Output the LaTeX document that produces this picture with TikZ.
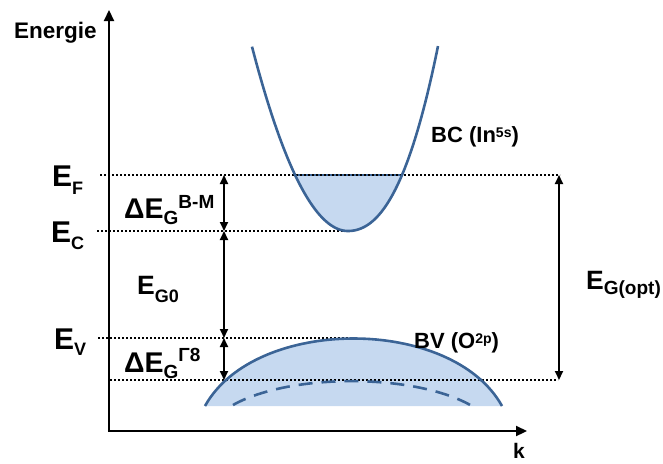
\documentclass[tikz,border=0pt]{standalone}
\usepackage{fontspec}
\setmainfont{Liberation Sans}
\usetikzlibrary{arrows.meta}
\definecolor{bandline}{HTML}{3B6496}
\definecolor{bandfill}{HTML}{C6D9F0}
\newcommand\lowpart[3]{\raisebox{-#1}{\fontsize{#2}{#2}\selectfont #3}}
\newcommand\highpart[3]{\raisebox{#1}{\fontsize{#2}{#2}\selectfont #3}}
\begin{document}
\begin{tikzpicture}[x=1pt,y=-1pt,font=\bfseries,
  axis/.style={line width=2.2pt,-{Triangle[length=11pt,width=10pt]}},
  level/.style={line width=1.8pt,dash pattern=on 1.8pt off 2.2pt},
  gaparrow/.style={line width=1.8pt,{Triangle[length=9pt,width=8pt]}-{Triangle[length=9pt,width=8pt]}},
  band/.style={draw=bandline,line width=2.6pt},
  lbl/.style={anchor=base west,inner sep=0pt}]
\useasboundingbox (0,0) rectangle (663,463);
% coordinates
\coordinate (O) at (109,431);
\coordinate (ytop) at (109,10);
\coordinate (xend) at (527,431);
\coordinate (F1) at (100,175); \coordinate (F2) at (560,175);
\coordinate (C1) at (97,231);  \coordinate (C2) at (350,231);
\coordinate (V1) at (98,338);  \coordinate (V2) at (353,338);
\coordinate (L1) at (110,380); \coordinate (L2) at (558,380);
\coordinate (aF) at (224,175); \coordinate (aC) at (224,231);
\coordinate (aV) at (224,338); \coordinate (aL) at (224,380);
\coordinate (oF) at (559,175); \coordinate (oL) at (559,380);
% fills
\begin{scope}
\clip plot[domain=252:348,samples=60] (\x,{231-2*((\x-348)/10)^2})
  -- plot[domain=348:438,samples=60] (\x,{231-1.376*((\x-348)/10)^2-0.1008*((\x-348)/10)^3}) -- cycle;
\fill[bandfill] (240,175) rectangle (450,240);
\draw[bandline,line width=2.6pt] (240,175) -- (450,175);
\end{scope}
\fill[bandfill] (205,406) .. controls (255,316) and (452,316) .. (502,406) -- cycle;
% levels
\draw[level] (F1) -- (F2);
\draw[level] (C1) -- (C2);
\draw[level] (V1) -- (V2);
\draw[level] (L1) -- (L2);
% bands
\draw[band] plot[domain=252:348,samples=60] (\x,{231-2*((\x-348)/10)^2})
  -- plot[domain=348:438,samples=60] (\x,{231-1.376*((\x-348)/10)^2-0.1008*((\x-348)/10)^3});
\draw[band] (205,406) .. controls (255,316) and (452,316) .. (502,406);
\draw[band,dash pattern=on 14pt off 9pt] (233,405) .. controls (290,373) and (415,373) .. (472,406);
% axes
\draw[axis] (O) -- (ytop);
\draw[axis] ([xshift=-1.1pt]O) -- (xend);
% gap arrows
\draw[gaparrow] (aF) -- (aC);
\draw[gaparrow] (aC) -- (aV);
\draw[gaparrow] (aV) -- (aL);
\draw[gaparrow] (oF) -- (oL);
% labels
\node[lbl] (energie) at (14,38) {\fontsize{22.5}{22.5}\selectfont Energie};
\node[lbl] (k) at (513,458) {\fontsize{21}{21}\selectfont k};
\node[lbl] (ef) at (52,186) {\fontsize{30}{30}\selectfont E\lowpart{8pt}{18}{F}};
\node[lbl] (ec) at (51,242) {\fontsize{30}{30}\selectfont E\lowpart{7pt}{18}{C}};
\node[lbl] (ev) at (54,349) {\fontsize{30}{30}\selectfont E\lowpart{6pt}{18}{V}};
\node[lbl] (dbm) at (124,218) {\fontsize{28.5}{28.5}\selectfont ΔE\lowpart{6pt}{19}{G}\highpart{10pt}{19}{B-M}};
\node[lbl] (eg0) at (137,294) {\fontsize{26.5}{26.5}\selectfont E\lowpart{8pt}{18}{G0}};
\node[lbl] (dg8) at (124,372) {\fontsize{28.5}{28.5}\selectfont ΔE\lowpart{6pt}{19}{G}\highpart{11pt}{19}{Γ8}};
\node[lbl] (egopt) at (586,289) {\fontsize{26.5}{26.5}\selectfont E\lowpart{5pt}{19}{G(opt)}};
\node[lbl] (bc) at (431,142) {\fontsize{22}{22}\selectfont BC (In\highpart{5pt}{14}{5s})};
\node[lbl] (bv) at (414,348) {\fontsize{22}{22}\selectfont BV (O\highpart{5pt}{14}{2p})};
\end{tikzpicture}
\end{document}
